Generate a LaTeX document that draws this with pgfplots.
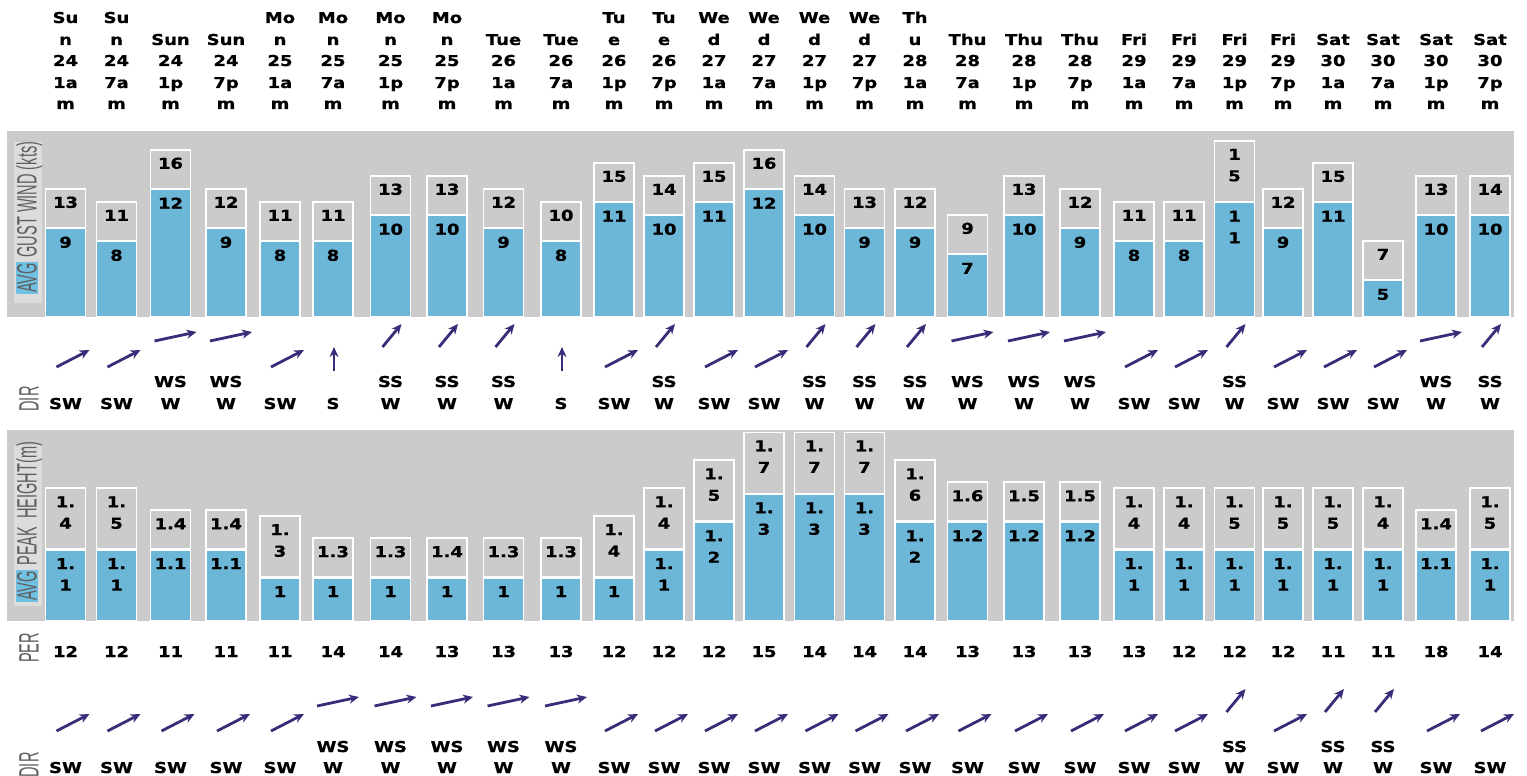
\documentclass[border=0pt]{standalone}
\usepackage{fontspec}
\usepackage{pgfplots}
\usepackage{pgfplotstable}
\pgfplotsset{compat=1.18}
\usetikzlibrary{arrows.meta}

\newfontfamily\lab{DejaVu Sans Bold}[FakeStretch=1.2, FakeBold=0.8]
\newfontfamily\side{Liberation Sans}[FakeStretch=0.52]
\newcommand\labfont{\lab\fontsize{15}{21.5}\selectfont}
\newcommand\sidefont{\side\fontsize{28}{30}\selectfont}

\definecolor{bggray}{RGB}{203,203,203}
\definecolor{boxgray}{RGB}{220,220,220}
\definecolor{barblue}{RGB}{108,183,216}
\definecolor{hlblue}{RGB}{112,192,226}
\definecolor{arrowc}{RGB}{55,45,120}
\definecolor{sidetext}{RGB}{95,95,95}

% wrapping of labels in the narrow columns
\def\wrapint#1#2\relax{#1\\#2}
\def\wrapdec#1.#2\relax{#1.\\#2}
% gray value box on top of a bar: wrap macro, value, wrap flag
\newcommand\gcell[3]{%
  \ifdim#3pt>0.5pt \def\mytxt{\expandafter#1#2\relax}\def\myht{61pt}\else\def\mytxt{#2}\def\myht{39pt}\fi
  \vbox to \myht{\hsize=40pt\parindent=0pt\centering\leavevmode\rule{0pt}{19pt}\mytxt\par\vss}}
% label just under the top of a bar
\newcommand\bcell[3]{%
  \ifdim#3pt>0.5pt \def\mytxt{\expandafter#1#2\relax}\else\def\mytxt{#2}\fi
  \vtop{\hsize=40pt\parindent=0pt\centering\leavevmode\rule{0pt}{19pt}\mytxt\par}}
\newcommand\hl[1]{{\setlength\fboxsep{1.5pt}\colorbox{hlblue}{#1}}}
\def\dashmark{-}
\newcommand\showlab[1]{\edef\mylab{#1}\ifx\mylab\dashmark\else\mylab\fi}

% time header, one row per line of text
\pgfplotstableread{
x r1 r2 r3 r4 r5
65.5 Su n 24 1a m
116.5 Su n 24 7a m
170.5 - Sun 24 1p m
226 - Sun 24 7p m
280 Mo n 25 1a m
333 Mo n 25 7a m
390.5 Mo n 25 1p m
447 Mo n 25 7p m
503.5 - Tue 26 1a m
561 - Tue 26 7a m
614 Tu e 26 1p m
664 Tu e 26 7p m
714 We d 27 1a m
764 We d 27 7a m
814.5 We d 27 1p m
864.5 We d 27 7p m
915 Th u 28 1a m
967.5 - Thu 28 7a m
1024 - Thu 28 1p m
1080 - Thu 28 7p m
1134 - Fri 29 1a m
1184 - Fri 29 7a m
1234.5 - Fri 29 1p m
1283 - Fri 29 7p m
1333 - Sat 30 1a m
1383 - Sat 30 7a m
1436 - Sat 30 1p m
1490 - Sat 30 7p m
}\headT

% gust wind (kts)
\pgfplotstableread{
x gust avg wg wa
65.5 13 9 0 0
116.5 11 8 0 0
170.5 16 12 0 0
226 12 9 0 0
280 11 8 0 0
333 11 8 0 0
390.5 13 10 0 0
447 13 10 0 0
503.5 12 9 0 0
561 10 8 0 0
614 15 11 0 0
664 14 10 0 0
714 15 11 0 0
764 16 12 0 0
814.5 14 10 0 0
864.5 13 9 0 0
915 12 9 0 0
967.5 9 7 0 0
1024 13 10 0 0
1080 12 9 0 0
1134 11 8 0 0
1184 11 8 0 0
1234.5 15 11 1 1
1283 12 9 0 0
1333 15 11 0 0
1383 7 5 0 0
1436 13 10 0 0
1490 14 10 0 0
}\gustT

% wave height (m)
\pgfplotstableread{
x peak avg wp wa
65.5 1.4 1.1 1 1
116.5 1.5 1.1 1 1
170.5 1.4 1.1 0 0
226 1.4 1.1 0 0
280 1.3 1 1 0
333 1.3 1 0 0
390.5 1.3 1 0 0
447 1.4 1 0 0
503.5 1.3 1 0 0
561 1.3 1 0 0
614 1.4 1 1 0
664 1.4 1.1 1 1
714 1.5 1.2 1 1
764 1.7 1.3 1 1
814.5 1.7 1.3 1 1
864.5 1.7 1.3 1 1
915 1.6 1.2 1 1
967.5 1.6 1.2 0 0
1024 1.5 1.2 0 0
1080 1.5 1.2 0 0
1134 1.4 1.1 1 1
1184 1.4 1.1 1 1
1234.5 1.5 1.1 1 1
1283 1.5 1.1 1 1
1333 1.5 1.1 1 1
1383 1.4 1.1 1 1
1436 1.4 1.1 0 0
1490 1.5 1.1 1 1
}\waveT

% wind direction: label lines, arrow tail offset/row and vector (px)
\pgfplotstableread{
x l1 l2 ox ty u v
65.5 - SW -9 367 33 -17
116.5 - SW -9 367 33 -17
170.5 WS W -16 341 42 -9
226 WS W -16 341 42 -9
280 - SW -9 367 33 -17
333 - S 1 371 0 -24
390.5 SS W -8 347 19 -23
447 SS W -8 347 19 -23
503.5 SS W -8 347 19 -23
561 - S 1 371 0 -24
614 - SW -9 367 33 -17
664 SS W -8 347 19 -23
714 - SW -9 367 33 -17
764 - SW -9 367 33 -17
814.5 SS W -8 347 19 -23
864.5 SS W -8 347 19 -23
915 SS W -8 347 19 -23
967.5 WS W -16 341 42 -9
1024 WS W -16 341 42 -9
1080 WS W -16 341 42 -9
1134 - SW -9 367 33 -17
1184 - SW -9 367 33 -17
1234.5 SS W -8 347 19 -23
1283 - SW -9 367 33 -17
1333 - SW -9 367 33 -17
1383 - SW -9 367 33 -17
1436 WS W -16 341 42 -9
1490 SS W -8 347 19 -23
}\dirT

% wave period and direction
\pgfplotstableread{
x per l1 l2 ox ty u v
65.5 12 - SW -9 731 33 -17
116.5 12 - SW -9 731 33 -17
170.5 11 - SW -9 731 33 -17
226 11 - SW -9 731 33 -17
280 11 - SW -9 731 33 -17
333 14 WS W -16 706 42 -9
390.5 14 WS W -16 706 42 -9
447 13 WS W -16 706 42 -9
503.5 13 WS W -16 706 42 -9
561 13 WS W -16 706 42 -9
614 12 - SW -9 731 33 -17
664 12 - SW -9 731 33 -17
714 12 - SW -9 731 33 -17
764 15 - SW -9 731 33 -17
814.5 14 - SW -9 731 33 -17
864.5 14 - SW -9 731 33 -17
915 14 - SW -9 731 33 -17
967.5 13 - SW -9 731 33 -17
1024 13 - SW -9 731 33 -17
1080 13 - SW -9 731 33 -17
1134 13 - SW -9 731 33 -17
1184 12 - SW -9 731 33 -17
1234.5 12 SS W -8 712 19 -23
1283 12 - SW -9 731 33 -17
1333 11 SS W -8 712 19 -23
1383 11 SS W -8 712 19 -23
1436 18 - SW -9 731 33 -17
1490 14 - SW -9 731 33 -17
}\swellT

\pgfplotsset{
  panel/.style={
    scale only axis, anchor=south west,
    xmin=7, xmax=1514,
    axis line style={draw=none},
    xtick=\empty, ytick=\empty,
    minor tick length=0pt,
    minor xtick={41,91,141.5,198.5,254.5,305,361.5,419,475,532.5,589,639,689,739,789.5,839.5,889.5,940,995.5,1051.5,1109,1159,1209.5,1258.5,1308,1358,1408,1464.5},
    xminorgrids=true,
    minor x grid style={white, line width=5pt},
    axis background/.style={fill=bggray},
  },
  bars/.style={ybar, bar width=40, bar shift=0pt, fill=barblue, draw=white, line width=1.5pt},
  graylab/.style={point meta=explicit symbolic,
    nodes near coords style={anchor=south, inner sep=0pt, fill=bggray, draw=white, line width=1.5pt, font=\labfont}},
  bluelab/.style={draw=none, mark=none, point meta=explicit symbolic,
    nodes near coords style={anchor=north, inner sep=0pt, font=\labfont}},
  textrow/.style={draw=none, mark=none, point meta=explicit symbolic,
    nodes near coords={\showlab{\pgfplotspointmeta}},
    nodes near coords style={anchor=base, inner sep=0pt, font=\labfont}},
}

\begin{document}
\begin{tikzpicture}
\path[use as bounding box] (0,0) rectangle (1527pt,776pt);

% gust wind panel
\begin{axis}[panel, at={(7pt,459pt)}, width=1507pt, height=186pt,
  ymin=2.2, ymax=16.5]
\addplot[bars, graylab,
  visualization depends on={\thisrow{wg} \as \wg},
  nodes near coords={\gcell\wrapint\pgfplotspointmeta\wg}]
  table[x=x, y=avg, meta=gust] {\gustT};
\addplot[bluelab,
  visualization depends on={\thisrow{wa} \as \wa},
  nodes near coords={\bcell\wrapint\pgfplotspointmeta\wa}]
  table[x=x, y=avg, meta=avg] {\gustT};
\end{axis}

% wave height panel
\begin{axis}[panel, at={(7pt,155pt)}, width=1507pt, height=191pt,
  ymin=0.846, ymax=1.529]
\addplot[bars, graylab,
  visualization depends on={\thisrow{wp} \as \wg},
  nodes near coords={\gcell\wrapdec\pgfplotspointmeta\wg}]
  table[x=x, y=avg, meta=peak] {\waveT};
\addplot[bluelab,
  visualization depends on={\thisrow{wa} \as \wa},
  nodes near coords={\bcell\wrapdec\pgfplotspointmeta\wa}]
  table[x=x, y=avg, meta=avg] {\waveT};
\end{axis}

% rows in picture coordinates: header, side labels, arrows, directions, period
\begin{axis}[at={(0pt,0pt)}, anchor=south west, scale only axis,
  width=1527pt, height=776pt, xmin=0, xmax=1527, ymin=0, ymax=776,
  y dir=reverse, hide axis, clip=false]
\addplot[textrow] table[x=x, y expr=23, meta=r1] {\headT};
\addplot[textrow] table[x=x, y expr=45, meta=r2] {\headT};
\addplot[textrow] table[x=x, y expr=66, meta=r3] {\headT};
\addplot[textrow] table[x=x, y expr=88, meta=r4] {\headT};
\addplot[textrow] table[x=x, y expr=109, meta=r5] {\headT};

\node[fill=boxgray, inner sep=0pt, minimum width=28pt, minimum height=161pt] at (axis cs:28,222.5) {};
\node[rotate=90, inner sep=0pt, font=\sidefont, text=sidetext] at (axis cs:29,218) {\hl{AVG} GUST WIND (kts)};
\node[fill=boxgray, inner sep=0pt, minimum width=28pt, minimum height=161pt] at (axis cs:28,525.5) {};
\node[rotate=90, inner sep=0pt, font=\sidefont, text=sidetext] at (axis cs:29,522) {\hl{AVG} PEAK\ \ HEIGHT(m)};
\node[rotate=90, inner sep=0pt, font=\sidefont, text=sidetext] at (axis cs:29,399) {DIR};
\node[rotate=90, inner sep=0pt, font=\sidefont, text=sidetext] at (axis cs:29,648) {PER};
\node[rotate=90, inner sep=0pt, font=\sidefont, text=sidetext] at (axis cs:29,765) {DIR};

\addplot[arrowc, line width=2.8pt, -{Stealth[length=10pt, width=9pt]},
  quiver={u=\thisrow{u}, v=\thisrow{v}}]
  table[x expr=\thisrow{x}+\thisrow{ox}, y=ty] {\dirT};
\addplot[textrow] table[x=x, y expr=387, meta=l1] {\dirT};
\addplot[textrow] table[x=x, y expr=409, meta=l2] {\dirT};

\addplot[textrow] table[x=x, y expr=657, meta=per] {\swellT};
\addplot[arrowc, line width=2.8pt, -{Stealth[length=10pt, width=9pt]},
  quiver={u=\thisrow{u}, v=\thisrow{v}}]
  table[x expr=\thisrow{x}+\thisrow{ox}, y=ty] {\swellT};
\addplot[textrow] table[x=x, y expr=752, meta=l1] {\swellT};
\addplot[textrow] table[x=x, y expr=773, meta=l2] {\swellT};
\end{axis}
\end{tikzpicture}
\end{document}
